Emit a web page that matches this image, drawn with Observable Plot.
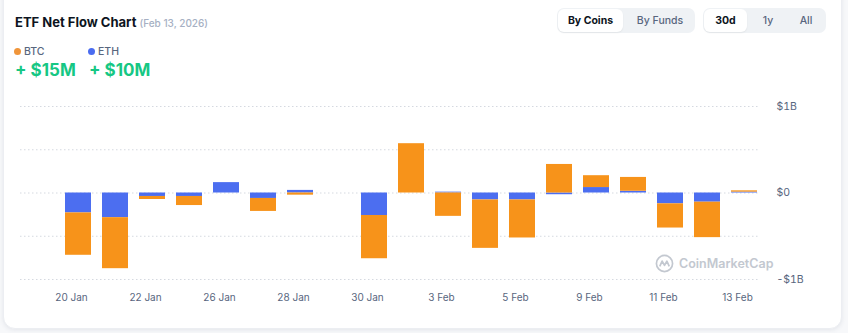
<!DOCTYPE html>
<html><head><meta charset="utf-8">
<script src="https://cdn.jsdelivr.net/npm/d3@7"></script>
<script src="https://cdn.jsdelivr.net/npm/@observablehq/plot@0.6"></script>
<style>
body{margin:0;width:848px;height:333px;background:#f7f8fa;font-family:Inter,"Noto Sans",sans-serif;overflow:hidden;position:relative}
.card{position:absolute;left:3px;top:-12px;width:837px;height:339px;background:#fff;border:1px solid #eceef2;border-radius:12px;box-shadow:0 1px 4px rgba(88,102,126,0.12)}
.abs{position:absolute;white-space:nowrap}
.title{left:15px;top:14px;font-size:13px;font-weight:700;color:#0d1421}
.title span{font-size:10px;font-weight:500;color:#a6b0c3}
.lg{font-size:10.5px;font-weight:500;color:#58667e;top:45px}
.dot{position:absolute;width:7px;height:7px;border-radius:50%;top:48px}
.val{font-size:17px;font-weight:700;color:#16c784;top:60px}
.grp{background:#eff2f5;border-radius:7px;height:25px;top:8px}
.btn{position:absolute;top:1px;height:23px;line-height:23px;font-size:10.5px;text-align:center;color:#58667e;font-weight:500}
.btn.on{background:#fff;border-radius:6px;color:#0d1421;font-weight:700;box-shadow:0 1px 2px rgba(0,0,0,0.06)}
#chart{position:absolute;left:0;top:95px}
.wm{left:655px;top:254px;font-size:12.5px;font-weight:600;color:#c3c8d0;display:flex;align-items:center;gap:5px}
</style></head>
<body>
<div class="card"></div>
<div class="abs title">ETF Net Flow Chart <span>(Feb 13, 2026)</span></div>
<div class="dot" style="left:14px;background:#f0953a"></div>
<div class="abs lg" style="left:24px">BTC</div>
<div class="dot" style="left:88px;background:#4a6cf0"></div>
<div class="abs lg" style="left:98px">ETH</div>
<div class="abs val" style="left:15px">+ $15M</div>
<div class="abs val" style="left:89px">+ $10M</div>
<div class="abs grp" style="left:557px;width:138px">
  <div class="btn on" style="left:1px;width:65px">By Coins</div>
  <div class="btn" style="left:70px;width:66px">By Funds</div>
</div>
<div class="abs grp" style="left:703px;width:123px">
  <div class="btn on" style="left:1px;width:43px">30d</div>
  <div class="btn" style="left:48px;width:34px">1y</div>
  <div class="btn" style="left:86px;width:34px">All</div>
</div>
<div id="chart"></div>
<div class="abs wm"><svg width="19" height="19" viewBox="0 0 20 20"><circle cx="10" cy="10" r="8.5" fill="none" stroke="#c3c8d0" stroke-width="1.8"/><path d="M5 13 L7.5 7.5 L10 12 L12.5 7.5 L15 13" fill="none" stroke="#c3c8d0" stroke-width="1.8" stroke-linejoin="round"/></svg>CoinMarketCap</div>
<script>
const dates = ["20 Jan","21 Jan","22 Jan","23 Jan","26 Jan","27 Jan","28 Jan","29 Jan","30 Jan","2 Feb","3 Feb","4 Feb","5 Feb","6 Feb","9 Feb","10 Feb","11 Feb","12 Feb","13 Feb"];
const eth = [-0.23,-0.285,-0.04,-0.04,0.12,-0.063,0.03,null,-0.26,0,0.01,-0.08,-0.08,-0.02,0.063,0.02,-0.125,-0.106,0.010];
const btc = [-0.49,-0.59,-0.035,-0.105,0,-0.15,-0.025,null,-0.50,0.57,-0.27,-0.56,-0.44,0.33,0.137,0.16,-0.28,-0.41,0.015];
const tickLabels = ["20 Jan","22 Jan","26 Jan","28 Jan","30 Jan","3 Feb","5 Feb","9 Feb","11 Feb","13 Feb"];
const yTicks = [-1,0,1];
const grid = [-1,-0.5,0,0.5,1];
const coins = ["ETH","BTC"];
const colors = ["#4c6ef0","#f7931a"];

const rows = [];
dates.forEach((d,i)=>{ if (eth[i]!=null) rows.push({date:d, coin:"ETH", v:eth[i]}); });
dates.forEach((d,i)=>{ if (btc[i]!=null) rows.push({date:d, coin:"BTC", v:btc[i]}); });

const fmt = d => d === 0 ? "$0" : (d > 0 ? `$${d}B` : `-$${-d}B`);

const chart = Plot.plot({
  width: 848,
  height: 214,
  marginTop: 11,
  marginBottom: 30,
  marginLeft: 20,
  marginRight: 88,
  style: {fontFamily: "Inter, sans-serif", fontSize: "10px", color: "#58667e", background: "transparent"},
  x: {type: "band", domain: dates, range: [64, 758], paddingInner: 0.3, paddingOuter: 0, label: null},
  y: {domain: [-1, 1], label: null},
  color: {domain: coins, range: colors},
  marks: [
    Plot.ruleY(grid, {stroke: "#d5d9e0", strokeDasharray: "1.5,2.5", strokeWidth: 1}),
    Plot.barY(rows, Plot.stackY({x: "date", y: "v", fill: "coin"})),
    Plot.axisX({ticks: tickLabels, tickSize: 0, tickPadding: 14, dx: -7, fill: "#58667e", fontSize: 10, label: null}),
    Plot.axisY({ticks: yTicks, anchor: "right", tickSize: 0, tickPadding: 16, tickFormat: fmt, fill: "#58667e", fontSize: 10.5, label: null})
  ]
});
document.getElementById("chart").appendChild(chart);
</script>
</body></html>
